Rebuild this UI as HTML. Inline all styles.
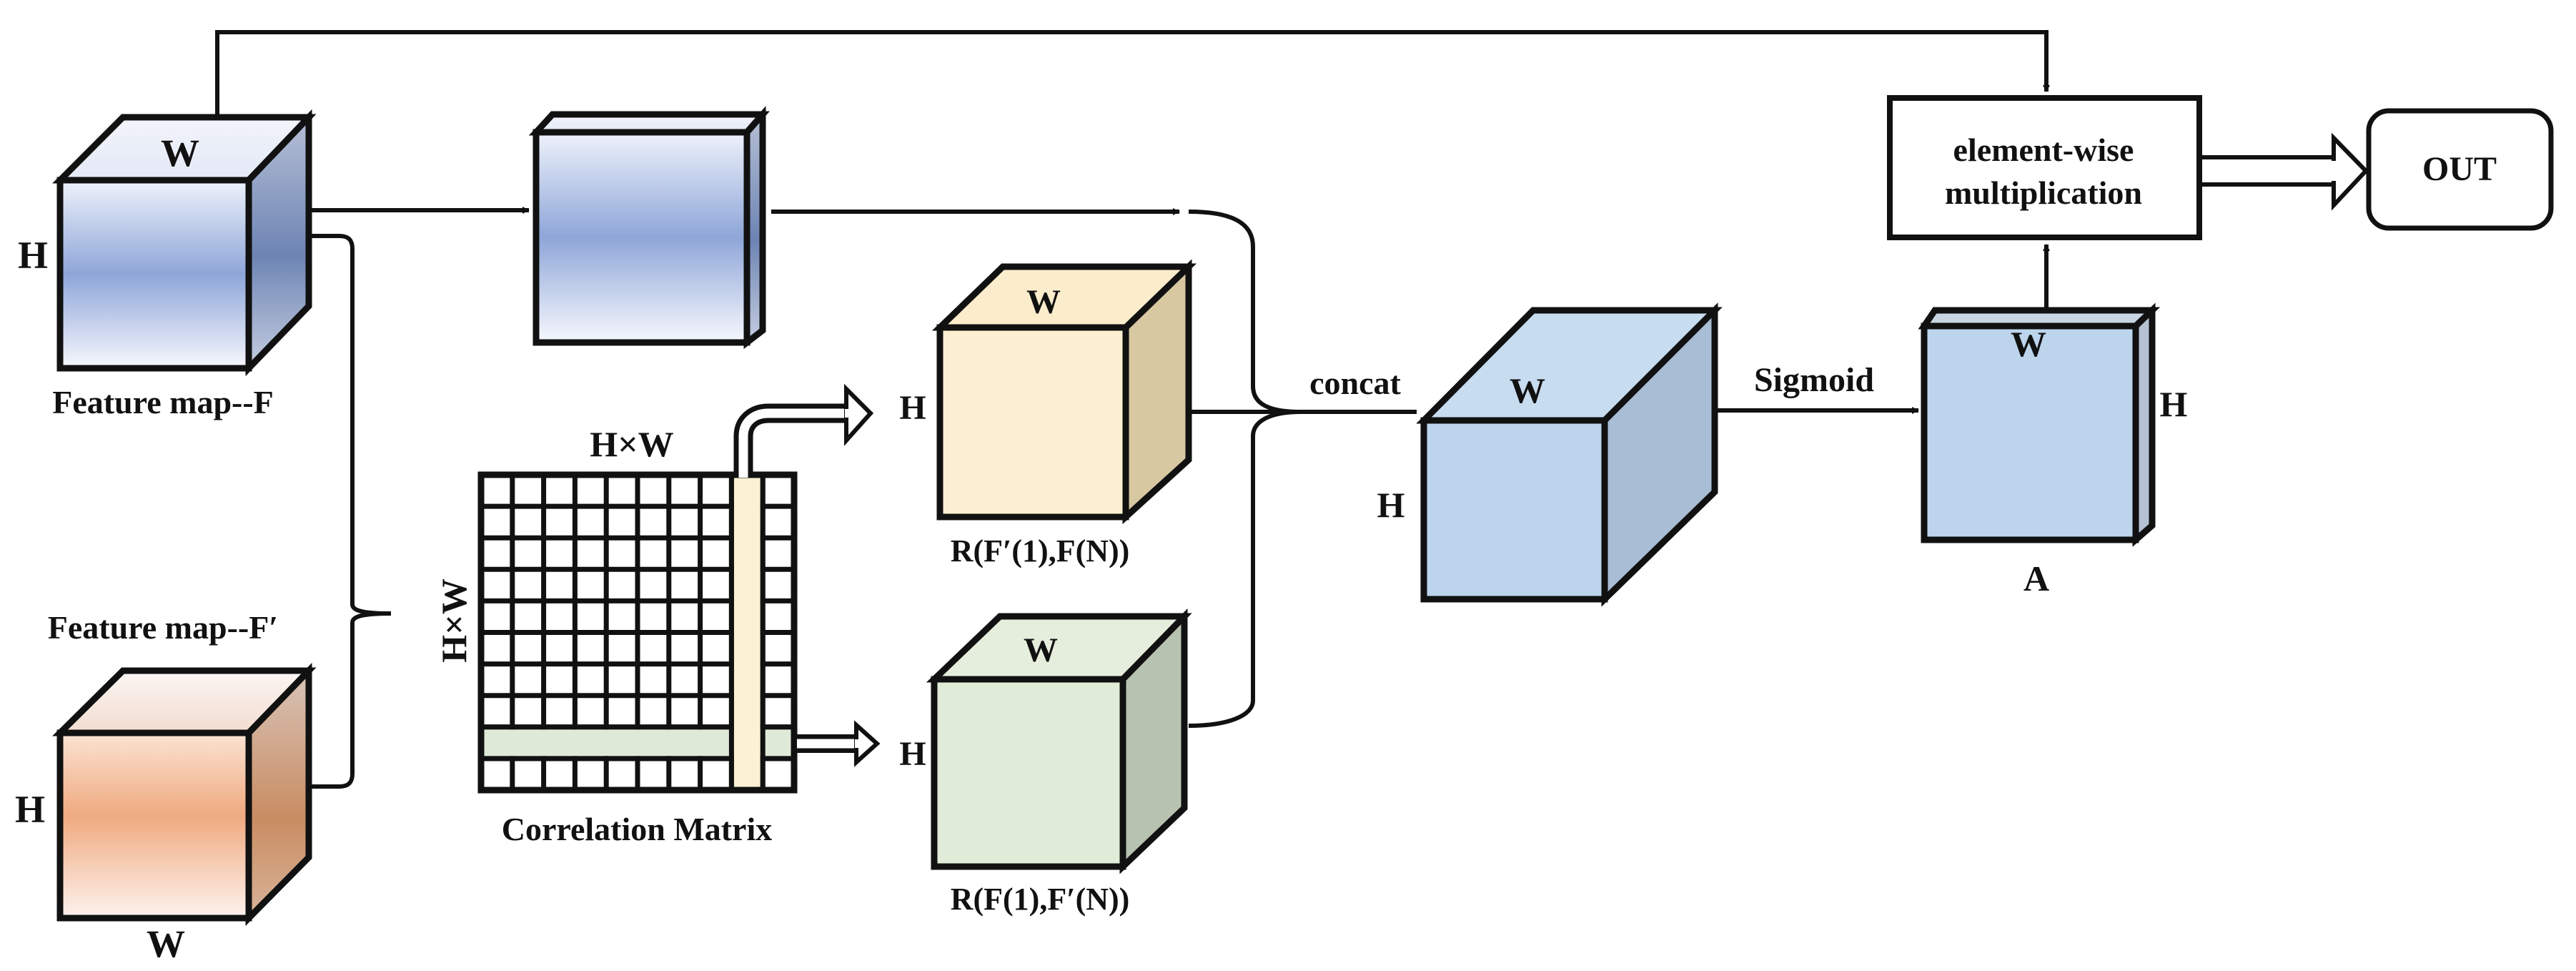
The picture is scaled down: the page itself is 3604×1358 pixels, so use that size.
<!DOCTYPE html>
<html><head><meta charset="utf-8"><style>
html,body{margin:0;padding:0;background:#fff}
svg{display:block}
text{font-family:"Liberation Serif",serif;font-weight:bold;fill:#111}
</style></head><body>
<svg width="3604" height="1358" viewBox="0 0 3604 1358" xmlns="http://www.w3.org/2000/svg">
<defs>
<linearGradient id="bf" x1="0" y1="0" x2="0" y2="1"><stop offset="0" stop-color="#eef2fb"/><stop offset="0.5" stop-color="#8ea6d8"/><stop offset="1" stop-color="#f7f8fd"/></linearGradient>
<linearGradient id="bt" x1="0" y1="0" x2="0" y2="1"><stop offset="0" stop-color="#f2f4fb"/><stop offset="1" stop-color="#e3e9f6"/></linearGradient>
<linearGradient id="br" x1="0" y1="0" x2="0" y2="1"><stop offset="0" stop-color="#b7c0d6"/><stop offset="0.55" stop-color="#6d84b4"/><stop offset="1" stop-color="#c5cde0"/></linearGradient>
<linearGradient id="of" x1="0" y1="0" x2="0" y2="1"><stop offset="0" stop-color="#fbe3d2"/><stop offset="0.45" stop-color="#efaa80"/><stop offset="1" stop-color="#fdf3ee"/></linearGradient>
<linearGradient id="ot" x1="0" y1="0" x2="0" y2="1"><stop offset="0" stop-color="#fbf6f3"/><stop offset="1" stop-color="#f3ddd0"/></linearGradient>
<linearGradient id="or" x1="0" y1="0" x2="0" y2="1"><stop offset="0" stop-color="#d8c4b8"/><stop offset="0.6" stop-color="#c98c62"/><stop offset="1" stop-color="#d8b49a"/></linearGradient>
<marker id="ah" markerWidth="10" markerHeight="10" refX="9" refY="5" orient="auto" markerUnits="userSpaceOnUse" viewBox="0 0 10 10"><path d="M0,0 L10,5 L0,10 z" fill="#111"/></marker>
</defs>
<g stroke="#111" stroke-width="9" stroke-linejoin="miter">
<!-- Cube F -->
<polygon points="84,252 172,164 432,164 348,252" fill="url(#bt)"/>
<polygon points="348,252 432,164 432,428 348,515" fill="url(#br)"/>
<rect x="84" y="252" width="264" height="263" fill="url(#bf)"/>
<!-- Block 2 -->
<polygon points="750,185 773,160 1067,160 1045,185" fill="url(#bt)"/>
<polygon points="1045,185 1067,160 1067,462 1045,479" fill="url(#br)"/>
<rect x="750" y="185" width="295" height="294" fill="url(#bf)"/>
<!-- Cube F' -->
<polygon points="84,1025 172,938 432,938 348,1025" fill="url(#ot)"/>
<polygon points="348,1025 432,938 432,1199 348,1284" fill="url(#or)"/>
<rect x="84" y="1025" width="264" height="259" fill="url(#of)"/>
<!-- Yellow cube -->
<polygon points="1315,458 1403,373 1663,373 1575,458" fill="#fbeccc"/>
<polygon points="1575,458 1663,373 1663,643 1575,723" fill="#d8c8a2"/>
<rect x="1315" y="458" width="260" height="265" fill="#fdf0d2"/>
<!-- Green cube -->
<polygon points="1307,950 1399,862 1657,862 1571,950" fill="#e5eedc"/>
<polygon points="1571,950 1657,862 1657,1130 1571,1212" fill="#b7c3b0"/>
<rect x="1307" y="950" width="264" height="262" fill="#e0ecd8"/>
<!-- Big blue cube -->
<polygon points="1992,588 2145,434 2399,434 2245,588" fill="#c8dcf0"/>
<polygon points="2245,588 2399,434 2399,688 2245,838" fill="#a9bdd5"/>
<rect x="1992" y="588" width="253" height="250" fill="#bcd5ec"/>
<!-- A block -->
<polygon points="2692,456 2707,434 3011,434 2988,456" fill="#c8d4e2"/>
<polygon points="2988,456 3011,434 3011,735 2988,755" fill="#b4c1d3"/>
<rect x="2692" y="456" width="296" height="299" fill="#bcd5ec"/>
</g>
<!-- Correlation matrix -->
<g>
<rect x="673" y="664" width="438" height="441" fill="#fff"/>
<g stroke="#111" stroke-width="7">
<path d="M716.8,664V1105M760.6,664V1105M804.4,664V1105M848.2,664V1105M892,664V1105M935.8,664V1105M979.6,664V1105M1023.4,664V1105M1067.2,664V1105"/>
<path d="M673,708.1H1111M673,752.2H1111M673,796.3H1111M673,840.4H1111M673,884.5H1111M673,928.6H1111M673,972.7H1111M673,1016.8H1111M673,1060.9H1111"/>
</g>
<rect x="677" y="1020.3" width="430" height="37" fill="#dfe9d8"/>
<rect x="1026.9" y="668" width="36.8" height="433" fill="#fcf1d4"/>
<g stroke="#111" stroke-width="7" fill="none">
<path d="M673,1016.8H1023.4M673,1060.9H1023.4M1067.2,1016.8H1111M1067.2,1060.9H1111M1023.4,664V1105M1067.2,664V1105"/>
<rect x="673" y="664" width="438" height="441" stroke-width="9"/>
</g>
</g>
<!-- connectors -->
<g stroke="#111" stroke-width="6" fill="none">
<path d="M304,164V45H2863V128" marker-end="url(#ah)"/>
<path d="M436,294H740" marker-end="url(#ah)"/>
<path d="M1079,296H1650" marker-end="url(#ah)"/>
<path d="M1663,296C1720,296 1753,310 1753,345V540C1753,565 1775,576 1820,576"/>
<path d="M1663,1015C1720,1015 1753,1000 1753,980V610C1753,590 1775,576 1820,576"/>
<path d="M1663,576H1982"/>
<path d="M2400,574H2684" marker-end="url(#ah)"/>
<path d="M2863,433V342" marker-end="url(#ah)"/>
<path d="M436,330H475C488,330 493,336 493,348V845C493,852 500,858 547,858 500,858 493,864 493,871V1082C493,1094 488,1100 475,1100H436"/>
</g>
<!-- hollow arrows -->
<g>
<path d="M1040,663V610C1040,590 1055,578 1075,578H1190" stroke="#111" stroke-width="27" fill="none"/>
<path d="M1040,668V610C1040,590 1055,578 1075,578H1195" stroke="#fff" stroke-width="13" fill="none"/>
<polygon points="1184,544 1218,578 1184,616" fill="#fff" stroke="#111" stroke-width="6"/>
<rect x="1182" y="572" width="8" height="12" fill="#fff"/>
<path d="M1111,1040H1202" stroke="#111" stroke-width="26" fill="none"/>
<path d="M1115,1040H1206" stroke="#fff" stroke-width="13" fill="none"/>
<polygon points="1198,1014 1227,1040 1198,1066" fill="#fff" stroke="#111" stroke-width="6"/>
<rect x="1196" y="1034" width="8" height="12" fill="#fff"/>
<path d="M3077,239H3270" stroke="#111" stroke-width="44" fill="none"/>
<path d="M3077,239H3274" stroke="#fff" stroke-width="32" fill="none"/>
<polygon points="3265,193 3310,239 3265,287" fill="#fff" stroke="#111" stroke-width="6"/>
<rect x="3262" y="225" width="8" height="28" fill="#fff"/>
</g>
<!-- boxes -->
<rect x="2644" y="137" width="433" height="195" fill="#fff" stroke="#111" stroke-width="8"/>
<rect x="3314" y="155" width="255" height="164" rx="28" fill="#fff" stroke="#111" stroke-width="7"/>
<!-- labels -->
<g font-size="50" text-anchor="middle">
<text x="252" y="232" font-size="54">W</text>
<text x="46" y="375" font-size="54">H</text>
<text x="228" y="578" font-size="46">Feature map--F</text>
<text x="228" y="893" font-size="46">Feature map--F′</text>
<text x="42" y="1150" font-size="54">H</text>
<text x="232" y="1338" font-size="54">W</text>
<text x="884" y="638" font-size="50">H×W</text>
<text x="0" y="0" font-size="50" transform="translate(652,868) rotate(-90)">H×W</text>
<text x="891" y="1175" font-size="46">Correlation Matrix</text>
<text x="1460" y="438" font-size="48">W</text>
<text x="1277" y="586" font-size="48">H</text>
<text x="1455" y="785" font-size="44">R(F′(1),F(N))</text>
<text x="1456" y="925" font-size="48">W</text>
<text x="1277" y="1070" font-size="48">H</text>
<text x="1455" y="1272" font-size="44">R(F(1),F′(N))</text>
<text x="1896" y="551" font-size="46">concat</text>
<text x="2137" y="563" font-size="50">W</text>
<text x="1946" y="723" font-size="50">H</text>
<text x="2538" y="547" font-size="48">Sigmoid</text>
<text x="2838" y="498" font-size="50">W</text>
<text x="3041" y="582" font-size="50">H</text>
<text x="2849" y="826" font-size="50">A</text>
<text x="2859" y="225" font-size="46">element-wise</text>
<text x="2859" y="285" font-size="46">multiplication</text>
<text x="3441" y="252" font-size="48">OUT</text>
</g>
</svg>
</body></html>
